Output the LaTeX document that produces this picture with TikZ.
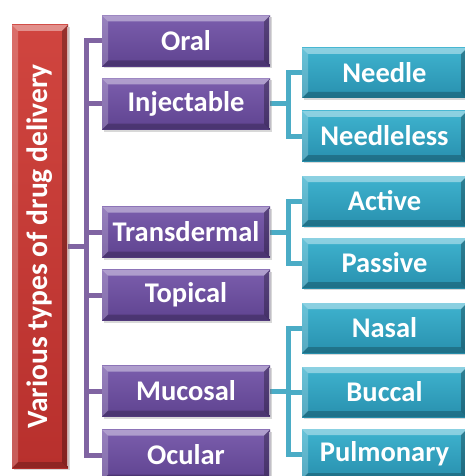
\documentclass[tikz,border=0pt]{standalone}
\usepackage{fontspec}
\setmainfont{Carlito}
\usetikzlibrary{shadows}
\definecolor{purpL}{HTML}{7B5EAD}
\definecolor{purpD}{HTML}{5F4390}
\definecolor{tealL}{HTML}{3FB3CF}
\definecolor{tealD}{HTML}{2890AE}
\definecolor{redL}{HTML}{D0453F}
\definecolor{redD}{HTML}{B8302D}
\definecolor{pline}{HTML}{8064A2}
\definecolor{tline}{HTML}{4BACC6}
\tikzset{
  bevel/.style={path picture={
    \fill[white,opacity=0.40] (path picture bounding box.north west) -- (path picture bounding box.north east)
      -- ([xshift=-#1,yshift=-#1]path picture bounding box.north east) -- ([xshift=#1,yshift=-#1]path picture bounding box.north west) -- cycle;
    \fill[white,opacity=0.22] (path picture bounding box.north west) -- ([xshift=#1,yshift=-#1]path picture bounding box.north west)
      -- ([xshift=#1,yshift=#1]path picture bounding box.south west) -- (path picture bounding box.south west) -- cycle;
    \fill[black,opacity=0.22] (path picture bounding box.south west) -- (path picture bounding box.south east)
      -- ([xshift=-#1,yshift=#1]path picture bounding box.south east) -- ([xshift=#1,yshift=#1]path picture bounding box.south west) -- cycle;
    \fill[black,opacity=0.28] (path picture bounding box.north east) -- ([xshift=-#1,yshift=-#1]path picture bounding box.north east)
      -- ([xshift=-#1,yshift=#1]path picture bounding box.south east) -- (path picture bounding box.south east) -- cycle;
    \draw[white,opacity=0.6,line width=1pt] ([xshift=-1pt,yshift=-2pt]path picture bounding box.north east) -- ([xshift=-1pt,yshift=2pt]path picture bounding box.south east);
  }},
  boxbase/.style={rectangle, inner sep=0pt, text=white,
    font=\fontsize{28.5}{30}\selectfont\bfseries,
    drop shadow={shadow xshift=2pt, shadow yshift=-2pt, opacity=0.3}},
  pbox/.style={boxbase, top color=purpL, bottom color=purpD, bevel=6pt,
    minimum width=168pt, minimum height=51pt},
  tbox/.style={boxbase, top color=tealL, bottom color=tealD, bevel=6pt,
    minimum width=165pt, minimum height=50pt},
  rbox/.style={boxbase, top color=redL, bottom color=redD, bevel=6pt,
    minimum width=56pt, minimum height=443pt},
  pconn/.style={draw=pline, line width=5pt},
  tconn/.style={draw=tline, line width=5pt},
}
\begin{document}
\begin{tikzpicture}[x=1pt,y=-1pt]
\useasboundingbox (0,0) rectangle (465,476);
\fill[white] (0,0) rectangle (465,476);

% coordinates for trunks
\coordinate (tk) at (86.5,0);
\coordinate (j) at (288,0);

\path
  (40,246.5) coordinate (redc)
  (186,41) coordinate (oralc)
  (186,104) coordinate (injc)
  (186,232) coordinate (tranc)
  (186,295) coordinate (topc)
  (186,391) coordinate (mucc)
  (186,455) coordinate (ocuc)
  (384.5,73) coordinate (needc)
  (384.5,136) coordinate (needlc)
  (384.5,201) coordinate (actc)
  (384.5,263) coordinate (pasc)
  (384.5,328) coordinate (nasc)
  (384.5,392) coordinate (bucc)
  (384.5,454) coordinate (pulc);

% connectors
\draw[pconn] (redc) ++(28,0) -- (redc -| tk);
\draw[pconn] (oralc) ++(-84,0) -- (oralc -| tk) -- (ocuc -| tk) -- ++(16,0);
\foreach \c in {injc,tranc,topc,mucc}{
  \draw[pconn] (\c -| tk) -- ++(16,0);
}
\draw[tconn] (needc -| j) ++(14,0) -- (needc -| j) -- (needlc -| j) -- ++(14,0);
\draw[tconn] (injc) ++(84,0) -- (injc -| j);
\draw[tconn] (actc -| j) ++(14,0) -- (actc -| j) -- (pasc -| j) -- ++(14,0);
\draw[tconn] (tranc) ++(84,0) -- (tranc -| j);
\draw[tconn] (nasc -| j) ++(14,0) -- (nasc -| j) -- (pulc -| j) -- ++(14,0);
\draw[tconn] (bucc -| j) -- ++(14,0);
\draw[tconn] (mucc) ++(84,0) -- (mucc -| j);

% boxes
\node[rbox] (red) at (redc) {};
\node[rotate=90, text=white, font=\fontsize{29.5}{31}\selectfont\bfseries] (redlabel) at (red.center) {Various types of drug delivery};

\node[pbox] (oral) at (oralc) {Oral};
\node[pbox] (inj) at (injc) {Injectable};
\node[pbox] (tran) at (tranc) {Transdermal};
\node[pbox] (top) at (topc) {Topical};
\node[pbox] (muc) at (mucc) {Mucosal};
\node[pbox] (ocu) at (ocuc) {Ocular};

\node[tbox] (need) at (needc) {Needle};
\node[tbox] (needl) at (needlc) {Needleless};
\node[tbox] (act) at (actc) {Active};
\node[tbox] (pas) at (pasc) {Passive};
\node[tbox] (nas) at (nasc) {Nasal};
\node[tbox] (buc) at (bucc) {Buccal};
\node[tbox] (pul) at (pulc) {Pulmonary};
\end{tikzpicture}
\end{document}
